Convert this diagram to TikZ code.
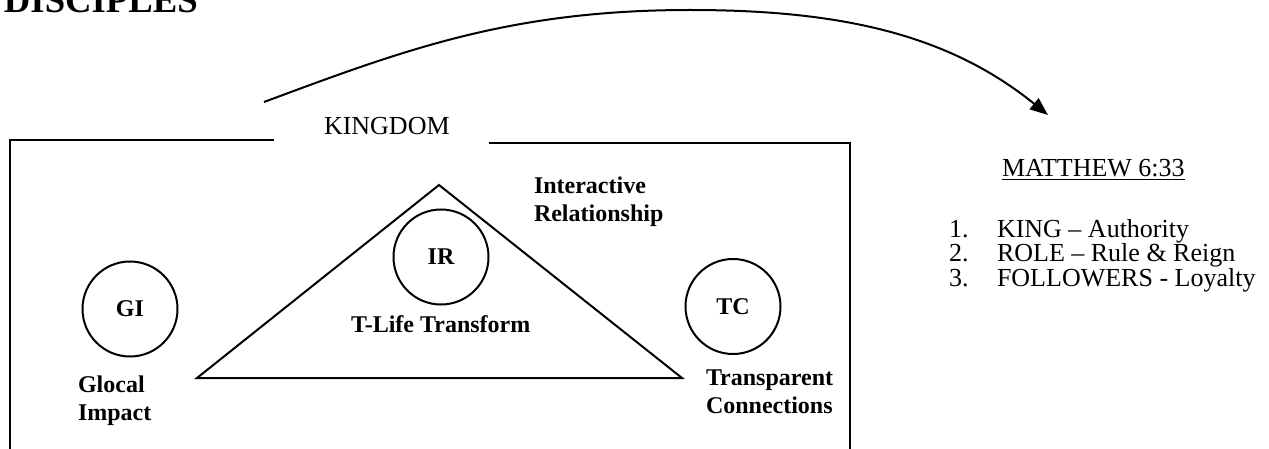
\documentclass[tikz,border=0pt]{standalone}
\usepackage{fontspec}
\setmainfont{Liberation Serif}
\usetikzlibrary{arrows.meta}

\tikzset{
  plaintxt/.style={inner sep=0pt, anchor=base west, font=\fontsize{26}{24.5}\selectfont},
  boldtxt/.style={inner sep=0pt, anchor=base west, align=left, font=\fontsize{24}{28}\selectfont\bfseries},
  ring/.style={draw, circle, line width=2pt, minimum size=95pt, inner sep=0pt, font=\fontsize{24}{28}\selectfont\bfseries}
}

\begin{document}
\begin{tikzpicture}[x=1pt,y=-1pt,line width=2pt]
    \useasboundingbox (0,0) rectangle (1269,449);
    % Title
    \node[inner sep=0pt, anchor=base west, font=\fontsize{36.7}{40}\selectfont\bfseries] (title) at (3,12.5) {DISCIPLES};
    % Kingdom box, open at the top for its name
    \node[plaintxt] (kingdom) at (323,135) {KINGDOM};
    \draw (274,140) -- (10,140) -- (10,449);
    \draw (489,143) -- (850,143) -- (850,449);
    % Triangle with its circle
    \coordinate (apex) at (439,185);
    \coordinate (baseL) at (197,378);
    \coordinate (baseR) at (682,378);
    \draw[line join=miter] (baseL) -- (apex) -- (baseR) -- cycle;
    \node[ring] (ir) at (441,257) {IR};
    \node[boldtxt] (tlife) at (350,332) {T-Life Transform};
    % (base of a two-line node is its last line)
    \node[boldtxt] (interact) at (533,222) {Interactive\\Relationship};
    % Circles at the sides
    \node[ring] (gi) at (130,309) {GI};
    \node[boldtxt] (glocal) at (77,420) {Glocal\\Impact};
    \node[ring] (tc) at (733,306.5) {TC};
    \node[boldtxt] (transp) at (705,413) {Transparent\\Connections};
    % Curved arrow to the verse
    \coordinate (arcfrom) at (264,102);
    \coordinate (arctop) at (690,10);
    \coordinate (arcto) at (1048,115);
    \draw[-{Triangle[length=18pt,width=14pt]}] (arcfrom) .. controls (404,50) and (510,10) .. (arctop)
        .. controls (840,10) and (948,34) .. (arcto);
    % Verse and list
    \node[plaintxt] (verse) at (1001,177) {\underline{MATTHEW 6:33}};
    \foreach \num/\entry [count=\i from 0] in {1./KING -- Authority, 2./ROLE -- Rule \& Reign, 3./FOLLOWERS - Loyalty}
    {
      \node[plaintxt] (num\i) at (948,{237+24.5*\i}) {\num};
      \node[plaintxt] (entry\i) at (996,{237+24.5*\i}) {\entry};
    }
\end{tikzpicture}
\end{document}
